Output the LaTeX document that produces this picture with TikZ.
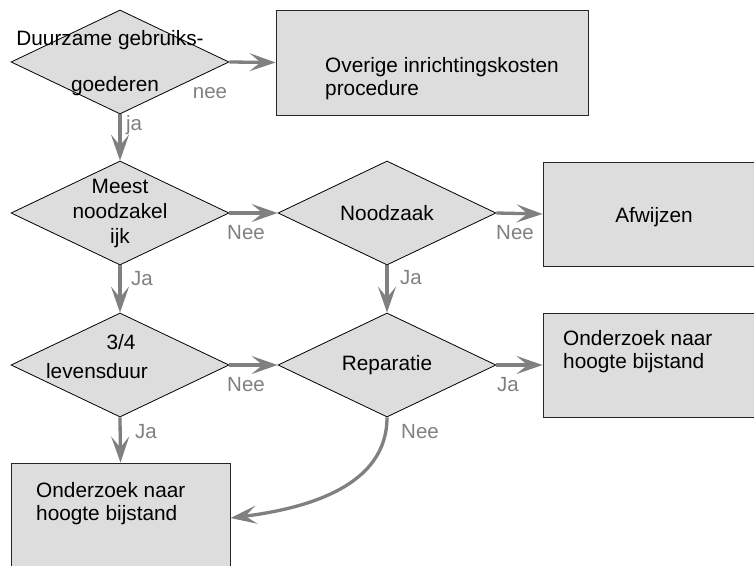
\documentclass[tikz,border=0pt]{standalone}
\usepackage{fontspec}
\setmainfont{Liberation Sans}
\usetikzlibrary{shapes.geometric,arrows.meta}
\definecolor{fillg}{HTML}{DDDDDD}
\definecolor{arrg}{HTML}{808080}
\begin{document}
\begin{tikzpicture}[x=1pt,y=-1pt,
 dia/.style={diamond,draw=black,line width=0.8pt,fill=fillg,minimum width=218pt,minimum height=104pt,inner sep=0pt},
 box/.style={rectangle,draw=black!85,line width=0.9pt,fill=fillg,inner sep=0pt},
 txt/.style={font=\fontsize{20.8}{23}\selectfont,inner sep=0pt,align=left},
 lbl/.style={font=\fontsize{20.5}{23}\selectfont,text=arrg,inner sep=0pt},
 arr/.style={draw=arrg,line width=3.3pt,-{Stealth[length=26pt 0,width=18pt 0,inset=11pt 0]}}]
\useasboundingbox (0,0) rectangle (754,565);
\clip (0,0) rectangle (754,565);
% shapes
\node[dia] (d1) at (120,62) {};
\node[dia] (d2) at (120,213) {};
\node[dia] (d3) at (120,365) {};
\node[dia] (nz) at (387,213) {};
\node[dia] (rp) at (387,365) {};
\node[box,minimum width=312pt,minimum height=105pt] (b1) at (432,62.5) {};
\node[box,minimum width=220pt,minimum height=104pt] (af) at (653,214) {};
\node[box,minimum width=220pt,minimum height=104pt] (or) at (653,365) {};
\node[box,minimum width=219pt,minimum height=110pt] (ol) at (120.5,518) {};
% texts
\node[txt] (t1a) at (110,40) {Duurzame gebruiks-};
\node[txt] (t1b) at (115,86) {goederen};
\node[txt,anchor=west] (t2) at (325,78.5) {Overige inrichtingskosten\\procedure};
\node[txt,align=center,font=\fontsize{20.8}{25}\selectfont] (t3) at (120,213) {Meest\\noodzakel\\ijk};
\node[txt] (t4) at (387,213) {Noodzaak};
\node[txt] (t5) at (654,217) {Afwijzen};
\node[txt] (t6a) at (121,342) {3/4};
\node[txt] (t6b) at (97,371) {levensduur};
\node[txt] (t7) at (387,365) {Reparatie};
\node[txt,anchor=west] (t8) at (563,352) {Onderzoek naar\\hoogte bijstand};
\node[txt,anchor=west] (t9) at (36,504) {Onderzoek naar\\hoogte bijstand};
% connectors
\draw[arr] (d1.east) -- (b1.west);
\draw[arr] (d1.south) -- (d2.north);
\draw[arr] (d2.east) -- (nz.west);
\draw[arr] (nz.east) -- (af.west);
\draw[arr] (d2.south) -- (d3.north);
\draw[arr] (nz.south) -- (rp.north);
\draw[arr] (d3.east) -- (rp.west);
\draw[arr] (rp.east) -- (or.west);
\draw[arr] (d3.south) -- (ol.north);
\draw[arr] (rp.south) .. controls (387,485) and (310,508) .. (ol.east);
% labels
\node[lbl] (l1) at (210,93) {nee};
\node[lbl] (l2) at (134,125) {ja};
\node[lbl] (l3) at (246,233) {Nee};
\node[lbl] (l4) at (515,233) {Nee};
\node[lbl] (l5) at (142,279) {Ja};
\node[lbl] (l6) at (411,278) {Ja};
\node[lbl] (l7) at (246,385) {Nee};
\node[lbl] (l8) at (508,385) {Ja};
\node[lbl] (l9) at (146,432) {Ja};
\node[lbl] (l10) at (420,432) {Nee};
\end{tikzpicture}
\end{document}
